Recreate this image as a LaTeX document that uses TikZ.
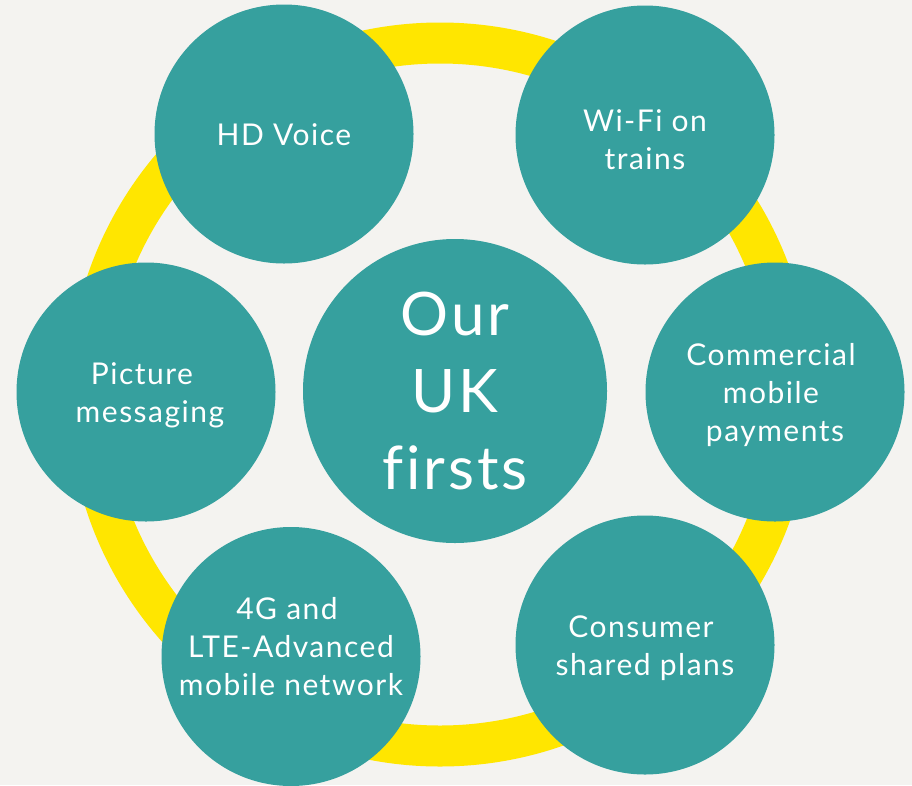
\documentclass[tikz,border=0pt]{standalone}
\usepackage{fontspec}
\setmainfont{Lato}[LetterSpace=5, Ligatures=NoCommon]
\definecolor{pagebg}{RGB}{244,243,240}
\definecolor{eeteal}{RGB}{54,160,158}
\definecolor{eeyellow}{RGB}{255,230,0}
\newcommand\trsp{\rule{8pt}{0pt}}
\begin{document}
\begin{tikzpicture}[x=1pt,y=-1pt,
  bubble/.style={circle, fill=eeteal, minimum size=259pt, inner sep=0pt},
  hub/.style={circle, fill=eeteal, minimum size=304pt, inner sep=0pt},
  txt/.style={text=white, font=\fontsize{30}{38}\selectfont, align=center, inner sep=0pt},
  bigtxt/.style={text=white, font=\fontsize{60}{77}\selectfont, align=center, inner sep=0pt},
  ring/.style={draw=eeyellow, line width=41pt}]
\fill[pagebg] (0,0) rectangle (912,785);
\useasboundingbox (0,0) rectangle (912,785);
\coordinate (ringc) at (440,394.5);
\draw[ring] (ringc) circle[radius=351.5];
\node[hub] (hub) at (455,391) {};
\node[bubble] (hd) at (284,134) {};
\node[bubble] (wifi) at (645,135) {};
\node[bubble] (pay) at (775,392) {};
\node[bubble] (plans) at (645,645) {};
\node[bubble] (net) at (291,656.5) {};
\node[bubble] (pic) at (146,392) {};
\node[bigtxt] (hub-t) at ([yshift=0pt]hub.center) {Our\\UK\\f{}irsts};
\node[txt] (hd-t) at ([yshift=-1pt]hd.center) {HD Voice};
\node[txt] (wifi-t) at ([yshift=-5pt]wifi.center) {Wi-Fi on\\trains};
\node[txt] (pay-t) at ([yshift=-3pt]pay.center) {Commercial\trsp\\mobile\trsp\\payments};
\node[txt] (plans-t) at ([yshift=-3pt]plans.center) {Consumer\trsp\\shared plans};
\node[txt] (net-t) at ([yshift=10pt]net.center) {4G and\trsp\\LTE-Advanced\\mobile network};
\node[txt] (pic-t) at ([yshift=-3pt]pic.center) {Picture\trsp\\\trsp messaging};
\end{tikzpicture}
\end{document}
